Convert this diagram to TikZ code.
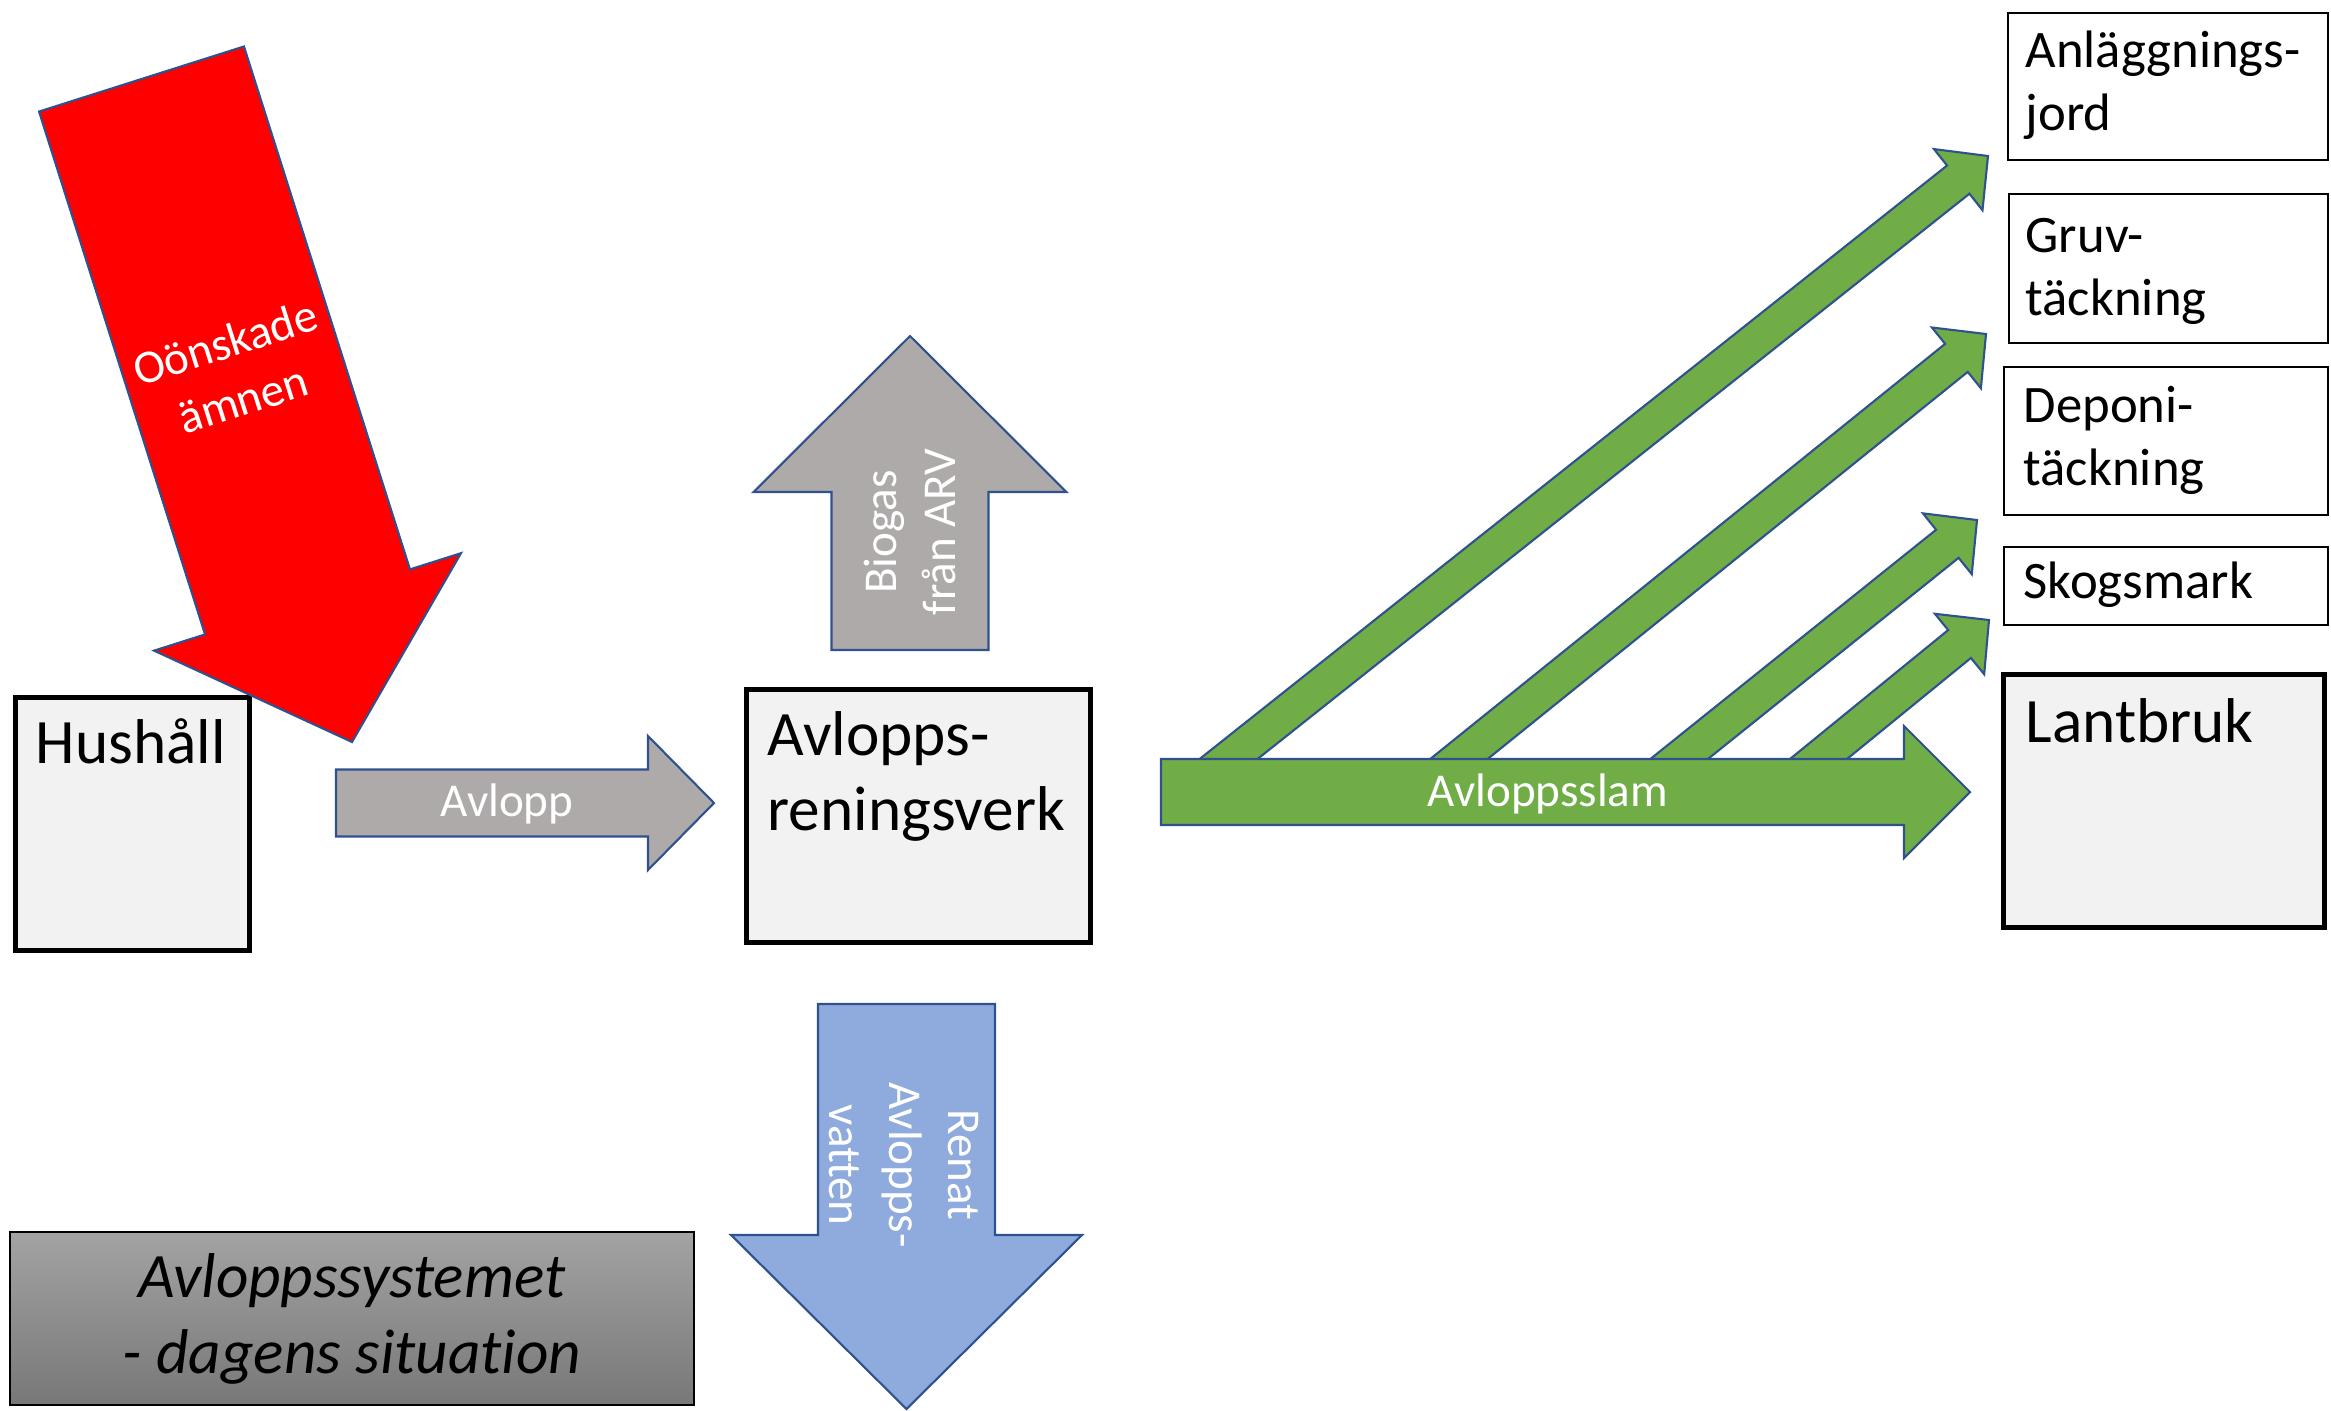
\documentclass[tikz,border=0pt]{standalone}
\usepackage{fontspec}
\setmainfont{Carlito}[Ligatures=NoCommon]
\usetikzlibrary{calc,positioning}

\definecolor{boxgray}{HTML}{F2F2F2}
\definecolor{arrowline}{HTML}{2F528F}
\definecolor{slamgreen}{HTML}{70AD47}
\definecolor{gasgray}{HTML}{AEAAAA}
\definecolor{waterblue}{HTML}{8FAADC}
\definecolor{systop}{HTML}{A3A3A3}
\definecolor{sysbottom}{HTML}{787878}

% block arrow from #2 to #3: shaft half width #4, head half width #5, head length #6
\newcommand{\blockarrow}[6]{%
  \coordinate (ba-h) at ($(#3)!#6!(#2)$);
  \path[#1] ($(#2)!#4!90:(#3)$) -- ($(ba-h)!#4!90:(#3)$) -- ($(ba-h)!#5!90:(#3)$) -- (#3)
    -- ($(ba-h)!#5!-90:(#3)$) -- ($(ba-h)!#4!-90:(#3)$) -- ($(#2)!#4!-90:(#3)$) -- cycle;}

\begin{document}
\begin{tikzpicture}[x=1cm,y=-1cm]
	
	\tikzset{
		bigbox/.style={draw=black, line width=1.5pt, fill=boxgray, inner sep=0pt, anchor=north west},
		smallbox/.style={draw=black, line width=0.6pt, fill=white, inner sep=0pt, anchor=north west},
		bigtext/.style={font=\fontsize{18}{21.6}\selectfont, inner sep=0pt, anchor=base west, text width=3.3cm, align=left},
		smalltext/.style={font=\fontsize{15}{18.2}\selectfont, inner sep=0pt, anchor=base west, text width=3cm, align=left},
		flowtext/.style={font=\fontsize{13.4}{17}\selectfont, text=white, inner sep=0pt, align=center},
		flow/.style={draw=arrowline, line width=0.6pt, line join=miter, fill=#1}
	}
	\useasboundingbox (0,0) rectangle (23.31,14.11);
	
	% hushall and the red inflow
	\node[bigbox, minimum width=2.34cm, minimum height=2.53cm] (hush) at (0.13,6.95) {};
	\node[bigtext] (hush-t) at (0.35,7.63) {Hushåll};
	\coordinate (red-s) at (1.415,0.79);
	\coordinate (red-e) at (3.52,7.42);
	\blockarrow{flow=red}{red-s}{red-e}{1.075cm}{1.61cm}{1.47cm}
	\node[flowtext, rotate=17.6] (red-t) at ($(red-s)!0.44!(red-e)$) {Oönskade\\ämnen};
	
	% avlopp to the plant
	\coordinate (avl-s) at (3.36,8.03);
	\coordinate (avl-e) at (7.14,8.03);
	\blockarrow{flow=gasgray}{avl-s}{avl-e}{0.335cm}{0.67cm}{0.66cm}
	\node[flowtext] (avl-t) at (5.07,8.04) {Avlopp};
	
	\node[bigbox, minimum width=3.44cm, minimum height=2.53cm] (arv) at (7.44,6.87) {};
	\node[bigtext] (arv-t) at (7.67,7.55) {Avlopps-\\reningsverk};
	
	% biogas up, water down
	\coordinate (gas-s) at (9.10,6.50);
	\coordinate (gas-e) at (9.10,3.36);
	\blockarrow{flow=gasgray}{gas-s}{gas-e}{0.785cm}{1.565cm}{1.56cm}
	\node[flowtext, rotate=90] (gas-t) at (9.10,5.32) {Biogas\\från ARV};
	
	\coordinate (vat-s) at (9.065,10.04);
	\coordinate (vat-e) at (9.065,14.09);
	\blockarrow{flow=waterblue}{vat-s}{vat-e}{0.885cm}{1.755cm}{1.74cm}
	\node[flowtext, rotate=-90] (vat-t) at (9.04,11.65) {Renat\\Avlopps-\\vatten};
	
	% sludge
	\foreach \i/\sx/\tx/\ty in {1/11.87/19.88/1.56, 2/14.18/19.86/3.34, 3/16.38/19.77/5.20, 4/17.78/19.89/6.20} {
		\coordinate (d\i-s) at (\sx,7.92);
		\coordinate (d\i-e) at (\tx,\ty);
		\blockarrow{flow=slamgreen}{d\i-s}{d\i-e}{0.18cm}{0.39cm}{0.38cm}
	}
	\coordinate (slam-s) at (11.61,7.92);
	\coordinate (slam-e) at (19.70,7.92);
	\blockarrow{flow=slamgreen}{slam-s}{slam-e}{0.33cm}{0.66cm}{0.66cm}
	\node[flowtext] (slam-t) at (15.48,7.94) {Avloppsslam};
	
	% receivers
	\node[smallbox, minimum width=3.20cm, minimum height=1.47cm] (anl) at (20.07,0.12) {};
	\node[smalltext] (anl-t) at (20.25,0.67) {Anläggnings-\\jord};
	\node[smallbox, minimum width=3.19cm, minimum height=1.49cm] (gruv) at (20.08,1.93) {};
	\node[smalltext] (gruv-t) at (20.25,2.52) {Gruv-\\täckning};
	\node[smallbox, minimum width=3.24cm, minimum height=1.48cm] (depo) at (20.03,3.66) {};
	\node[smalltext] (depo-t) at (20.23,4.22) {Deponi-\\täckning};
	\node[smallbox, minimum width=3.24cm, minimum height=0.78cm] (skog) at (20.03,5.46) {};
	\node[smalltext] (skog-t) at (20.23,5.98) {Skogsmark};
	\node[bigbox, minimum width=3.21cm, minimum height=2.53cm] (lant) at (20.01,6.72) {};
	\node[bigtext] (lant-t) at (20.25,7.42) {Lantbruk};
	
	% title
	\node[draw=black, line width=0.6pt, top color=systop, bottom color=sysbottom, minimum width=6.84cm, minimum height=1.73cm, inner sep=0pt, anchor=north west] (sys) at (0.09,12.31) {};
	\node[font=\fontsize{18}{21.6}\selectfont\itshape, align=center, inner sep=0pt] (sys-t) at (sys.center) {Avloppssystemet\\- dagens situation};
	
\end{tikzpicture}
\end{document}
